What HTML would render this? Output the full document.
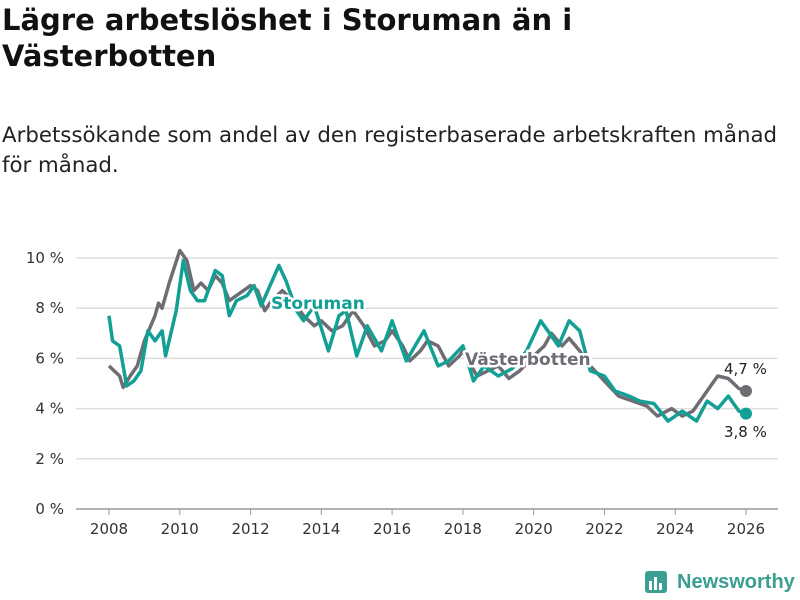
<!DOCTYPE html>
<html><head><meta charset="utf-8"><style>
body{margin:0;width:800px;height:600px;background:#fff;font-family:"Liberation Sans","DejaVu Sans",sans-serif;overflow:hidden;position:relative}
h1{position:absolute;left:2px;top:2px;margin:0;font-size:29px;line-height:36px;font-weight:bold;color:#111;font-family:"DejaVu Sans","Liberation Sans",sans-serif}
.sub{position:absolute;left:2px;top:121px;font-size:21.3px;line-height:30px;color:#222;font-family:"DejaVu Sans","Liberation Sans",sans-serif}
svg{position:absolute;left:0;top:0}
</style></head><body>
<h1>Lägre arbetslöshet i Storuman än i<br>Västerbotten</h1>
<div class="sub">Arbetssökande som andel av den registerbaserade arbetskraften månad<br>för månad.</div>
<svg id="c" width="800" height="600"></svg>
<script>
const yTicks=[0,2,4,6,8,10];
const xTicks=[2008,2010,2012,2014,2016,2018,2020,2022,2024,2026];
const catsV=[2008.0,2008.3,2008.4,2008.6,2008.8,2009.0,2009.3,2009.4,2009.5,2009.7,2010.0,2010.2,2010.4,2010.6,2010.8,2011.0,2011.2,2011.4,2011.6,2011.8,2012.0,2012.2,2012.4,2012.6,2012.9,2013.2,2013.5,2013.8,2014.0,2014.3,2014.6,2014.9,2015.2,2015.5,2015.8,2016.0,2016.3,2016.5,2016.8,2017.0,2017.3,2017.6,2017.9,2018.0,2018.4,2018.7,2019.0,2019.3,2019.6,2020.0,2020.3,2020.5,2020.8,2021.0,2021.3,2021.6,2022.0,2022.4,2022.8,2023.2,2023.5,2023.9,2024.2,2024.5,2024.8,2025.0,2025.2,2025.5,2025.8,2026.0];
const valsV=[5.7,5.3,4.85,5.3,5.7,6.7,7.7,8.2,8.0,9.0,10.3,9.9,8.7,9.0,8.7,9.3,9.0,8.3,8.5,8.7,8.9,8.7,7.9,8.3,8.7,8.3,7.7,7.3,7.5,7.1,7.3,7.9,7.3,6.5,6.7,7.1,6.5,5.9,6.3,6.7,6.5,5.7,6.1,6.3,5.3,5.5,5.7,5.2,5.5,6.1,6.5,7.0,6.5,6.8,6.3,5.7,5.1,4.5,4.3,4.1,3.7,4.0,3.7,3.9,4.5,4.9,5.3,5.2,4.8,4.7];
const catsS=[2008.0,2008.1,2008.3,2008.5,2008.7,2008.9,2009.1,2009.3,2009.5,2009.6,2009.9,2010.1,2010.3,2010.5,2010.7,2011.0,2011.2,2011.4,2011.6,2011.9,2012.1,2012.3,2012.8,2013.0,2013.3,2013.5,2013.8,2014.2,2014.5,2014.7,2015.0,2015.3,2015.7,2016.0,2016.4,2016.9,2017.3,2017.6,2018.0,2018.3,2018.6,2019.0,2019.4,2019.8,2020.2,2020.4,2020.7,2021.0,2021.3,2021.6,2022.0,2022.3,2022.7,2023.0,2023.4,2023.8,2024.2,2024.6,2024.9,2025.2,2025.5,2025.8,2026.0];
const valsS=[7.7,6.7,6.5,4.9,5.1,5.5,7.1,6.7,7.1,6.1,7.9,9.9,8.7,8.3,8.3,9.5,9.3,7.7,8.3,8.5,8.9,8.1,9.7,9.1,7.9,7.5,8.1,6.3,7.7,7.9,6.1,7.3,6.3,7.5,5.9,7.1,5.7,5.9,6.5,5.1,5.7,5.3,5.6,6.3,7.5,7.1,6.5,7.5,7.1,5.5,5.3,4.7,4.5,4.3,4.2,3.5,3.9,3.5,4.3,4.0,4.5,3.9,3.8];
const NS="http://www.w3.org/2000/svg",svg=document.getElementById('c');
const X=v=>109+(v-2008)*(746-109)/18, Y=v=>509-v*25.1;
function mk(t,a,p){const e=document.createElementNS(NS,t);for(const k in a)e.setAttribute(k,a[k]);(p||svg).appendChild(e);return e;}
yTicks.forEach(t=>{
 const l=mk('line',{x1:76,x2:778,y1:Y(t),y2:Y(t),stroke:t===0?'#999':'#ddd','stroke-width':1.5});
 
 
 const tx=mk('text',{x:64,y:Y(t)+5,'text-anchor':'end','font-size':15,fill:'#333','font-family':'DejaVu Sans, sans-serif'});tx.textContent=t+' %';
 
 
});
xTicks.forEach(t=>{
 const l=mk('line',{x1:X(t),x2:X(t),y1:509,y2:515,stroke:'#999'});
 
 
 const tx=mk('text',{x:X(t),y:534,'text-anchor':'middle','font-size':15,fill:'#333','font-family':'DejaVu Sans, sans-serif'});tx.textContent=t;
 
 
});
function line(c,v,col,name){
 const p=mk('path',{d:c.map((x,i)=>(i?'L':'M')+X(x).toFixed(1)+','+Y(v[i]).toFixed(1)).join(''),fill:'none',stroke:col,'stroke-width':3.5,'stroke-linejoin':'round'});
 
 
 const d=mk('circle',{cx:X(c[c.length-1]),cy:Y(v[v.length-1]),r:6,fill:col});
 
 
}
line(catsV,valsV,'#6e6d73','vasterbotten-line');
line(catsS,valsS,'#12a095','storuman-line');
function lab(x,y,t,col,name,size,bold){
 const a={x:x,y:y,'font-size':size,fill:col,'font-family':'DejaVu Sans, sans-serif','font-weight':bold?'bold':'normal'};
 const h=mk('text',Object.assign({},a,{stroke:'#fff','stroke-width':5,'stroke-linejoin':'round'}));h.textContent=t;
 
 
 const e=mk('text',a);e.textContent=t;
 
 
}
lab(271,309,'Storuman','#12a095','storuman-label',17,true);
lab(465,365,'Västerbotten','#6e6d73','vasterbotten-label',17,true);
lab(724,374,'4,7 %','#222','vasterbotten-end-value',15,false);
lab(724,437,'3,8 %','#222','storuman-end-value',15,false);
</script>
<div style="position:absolute;left:645px;top:569px;display:flex;align-items:center">
<svg width="24" height="26" style="position:static"><rect x="0" y="2" width="22" height="22" rx="3" fill="#3a9e92"/><rect x="4" y="12" width="3" height="9" fill="#fff"/><rect x="9" y="8" width="3" height="13" fill="#fff"/><rect x="14" y="14" width="3" height="7" fill="#fff"/></svg>
<span style="font-family:'Liberation Sans',sans-serif;font-weight:bold;font-size:20px;color:#3a9e92;margin-left:8px">Newsworthy</span></div>
</body></html>
